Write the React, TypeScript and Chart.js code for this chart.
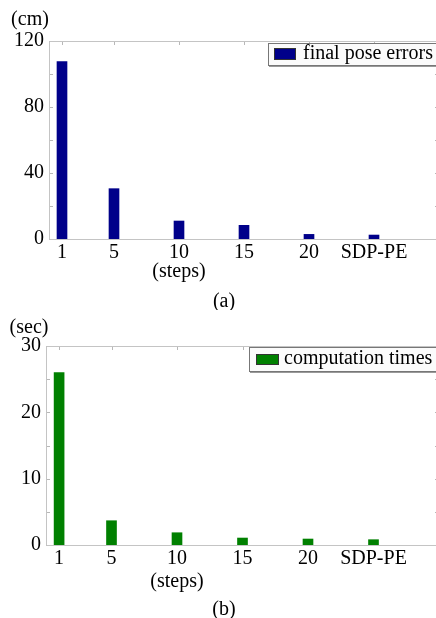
import React, { useEffect, useRef } from "react";
import { Chart, registerables } from "chart.js";

Chart.register(...registerables);

// ---- data ----
const STEP_POSITIONS = [1, 5, 10, 15, 20, 25];
const STEP_LABELS = ["1", "5", "10", "15", "20", "SDP-PE"];
const POSE_ERRORS_CM = [107.5, 30.5, 10.9, 8.3, 2.8, 2.4];
const COMPUTATION_TIMES_SEC = [26.0, 3.66, 1.85, 1.05, 0.9, 0.8];
const POSE_Y_MAX = 120;
const POSE_Y_LABEL_STEP = 40;
const POSE_Y_MINOR_STEP = 20;
const TIME_Y_MAX = 30;
const TIME_Y_LABEL_STEP = 10;
const TIME_Y_MINOR_STEP = 5;
const X_MIN = 0;
const X_MAX = 30;

const FONT_FAMILY = "'Liberation Serif', 'Times New Roman', serif";
const FONT_SIZE = 20;
const CANVAS_W = 450;

type PanelProps = {
  values: number[];
  color: string;
  legendText: string;
  unit: string;
  caption: string;
  yMax: number;
  yLabelStep: number;
  yMinorStep: number;
  pageTop: number;
  height: number;
  areaLeft: number;
  areaTop: number;
  areaBottom: number;
  areaRight: number;
  unitPos: [number, number];
  stepsY: number;
  captionPos: [number, number];
  legend: { x: number; y: number; h: number; sx: number; sy: number; sw: number; sh: number; tx: number; ty: number };
};

function Panel(p: PanelProps) {
  const ref = useRef<HTMLCanvasElement | null>(null);

  useEffect(() => {
    if (!ref.current) return;
    const font = { family: FONT_FAMILY, size: FONT_SIZE };
    const fontStr = `${FONT_SIZE}px ${FONT_FAMILY}`;

    const decor = {
      id: "decor",
      beforeDatasetsDraw(chart: any) {
        const { ctx, chartArea } = chart;
        const xs = chart.scales.x;
        const ys = chart.scales.y;
        ctx.save();
        ctx.strokeStyle = "#b8b8b8";
        ctx.lineWidth = 1;
        for (let v = 0; v <= p.yMax; v += p.yMinorStep) {
          const y = Math.round(ys.getPixelForValue(v)) + 0.5;
          ctx.beginPath();
          ctx.moveTo(chartArea.left, y);
          ctx.lineTo(chartArea.left + 4, y);
          ctx.moveTo(chartArea.right, y);
          ctx.lineTo(chartArea.right - 4, y);
          ctx.stroke();
        }
        STEP_POSITIONS.forEach((v) => {
          const x = Math.round(xs.getPixelForValue(v)) + 0.5;
          ctx.beginPath();
          ctx.moveTo(x, chartArea.top);
          ctx.lineTo(x, chartArea.top + 4);
          ctx.stroke();
        });
        ctx.restore();
      },
      afterDatasetsDraw(chart: any) {
        const { ctx, chartArea } = chart;
        ctx.save();
        ctx.strokeStyle = "#c4c4c4";
        ctx.lineWidth = 1;
        const l = Math.round(chartArea.left) + 0.5;
        const t = Math.round(chartArea.top) + 0.5;
        const b = Math.round(chartArea.bottom) + 0.5;
        const r = Math.round(chartArea.right) + 0.5;
        ctx.beginPath();
        ctx.moveTo(l, t);
        ctx.lineTo(r, t);
        ctx.lineTo(r, b);
        ctx.lineTo(l, b);
        ctx.closePath();
        ctx.stroke();
        ctx.restore();
      },
      afterDraw(chart: any) {
        const { ctx } = chart;
        const xs = chart.scales.x;
        ctx.save();
        ctx.font = fontStr;
        ctx.fillStyle = "#000";
        ctx.textAlign = "center";
        ctx.textBaseline = "middle";
        ctx.fillText(p.unit, p.unitPos[0], p.unitPos[1]);
        ctx.fillText("(steps)", xs.getPixelForValue(STEP_POSITIONS[2]), p.stepsY);
        ctx.fillText(p.caption, p.captionPos[0], p.captionPos[1]);

        const L = p.legend;
        const w = CANVAS_W - L.x;
        ctx.fillStyle = "#fbfbfb";
        ctx.fillRect(L.x, L.y, w, L.h);
        ctx.strokeStyle = "#777";
        ctx.lineWidth = 1;
        ctx.strokeRect(L.x + 0.5, L.y + 0.5, w, L.h);
        ctx.strokeStyle = "#999";
        ctx.beginPath();
        ctx.moveTo(L.x + 1, L.y + L.h + 1.5);
        ctx.lineTo(L.x + w, L.y + L.h + 1.5);
        ctx.stroke();
        const ds = chart.data.datasets[0];
        ctx.fillStyle = ds.backgroundColor;
        ctx.fillRect(L.sx, L.sy, L.sw, L.sh);
        ctx.strokeStyle = "#333";
        ctx.strokeRect(L.sx + 0.5, L.sy + 0.5, L.sw - 1, L.sh - 1);
        ctx.fillStyle = "#000";
        ctx.textAlign = "left";
        ctx.fillText(ds.label, L.tx, L.ty);
        ctx.restore();
      },
    };

    const chart = new Chart(ref.current, {
      type: "bar",
      data: {
        datasets: [
          {
            label: p.legendText,
            data: STEP_POSITIONS.map((x, i) => ({ x, y: p.values[i] })),
            backgroundColor: p.color,
            borderWidth: 0,
            barThickness: 10,
          },
        ],
      },
      options: {
        animation: false,
        responsive: false,
        maintainAspectRatio: false,
        layout: {
          padding: { top: p.areaTop, left: 0, right: CANVAS_W - p.areaRight, bottom: 0 },
        },
        plugins: { legend: { display: false }, tooltip: { enabled: false } },
        scales: {
          x: {
            type: "linear",
            offset: false,
            min: X_MIN,
            max: X_MAX,
            grid: { display: false, offset: false },
            border: { display: false },
            afterBuildTicks: (s: any) => {
              s.ticks = STEP_POSITIONS.map((v) => ({ value: v }));
            },
            afterFit: (s: any) => {
              s.height = p.height - p.areaBottom;
            },
            ticks: {
              font,
              color: "#000",
              padding: -6,
              maxRotation: 0,
              autoSkip: false,
              callback: (v: any) => {
                const i = STEP_POSITIONS.indexOf(Number(v));
                return i >= 0 ? STEP_LABELS[i] : "";
              },
            },
          },
          y: {
            min: 0,
            max: p.yMax,
            grid: { display: false, drawTicks: false },
            border: { display: false },
            afterFit: (s: any) => {
              s.width = p.areaLeft;
            },
            ticks: { stepSize: p.yLabelStep, font, color: "#000", padding: 5 },
          },
        },
      } as any,
      plugins: [decor],
    });
    return () => chart.destroy();
  }, []);

  return (
    <canvas
      ref={ref}
      width={CANVAS_W}
      height={p.height}
      style={{ position: "absolute", left: 0, top: p.pageTop, width: CANVAS_W, height: p.height }}
    />
  );
}

export default function App() {
  return (
    <div
      style={{
        position: "fixed",
        left: 0,
        top: 0,
        width: 436,
        height: 618,
        overflow: "hidden",
        background: "#fff",
      }}
    >
      <Panel
        values={POSE_ERRORS_CM}
        color="#00008a"
        legendText="final pose errors"
        unit="(cm)"
        caption="(a)"
        yMax={POSE_Y_MAX}
        yLabelStep={POSE_Y_LABEL_STEP}
        yMinorStep={POSE_Y_MINOR_STEP}
        pageTop={0}
        height={310}
        areaLeft={49}
        areaTop={41}
        areaBottom={239}
        areaRight={439}
        unitPos={[30, 20]}
        stepsY={272}
        captionPos={[224, 302]}
        legend={{ x: 268, y: 43, h: 22, sx: 274, sy: 48, sw: 22, sh: 12, tx: 303, ty: 54 }}
      />
      <Panel
        values={COMPUTATION_TIMES_SEC}
        color="#008000"
        legendText="computation times"
        unit="(sec)"
        caption="(b)"
        yMax={TIME_Y_MAX}
        yLabelStep={TIME_Y_LABEL_STEP}
        yMinorStep={TIME_Y_MINOR_STEP}
        pageTop={310}
        height={308}
        areaLeft={46}
        areaTop={36}
        areaBottom={235}
        areaRight={439}
        unitPos={[29, 18]}
        stepsY={272}
        captionPos={[224, 300]}
        legend={{ x: 249, y: 37, h: 24, sx: 256, sy: 44, sw: 23, sh: 11, tx: 284, ty: 49 }}
      />
    </div>
  );
}
